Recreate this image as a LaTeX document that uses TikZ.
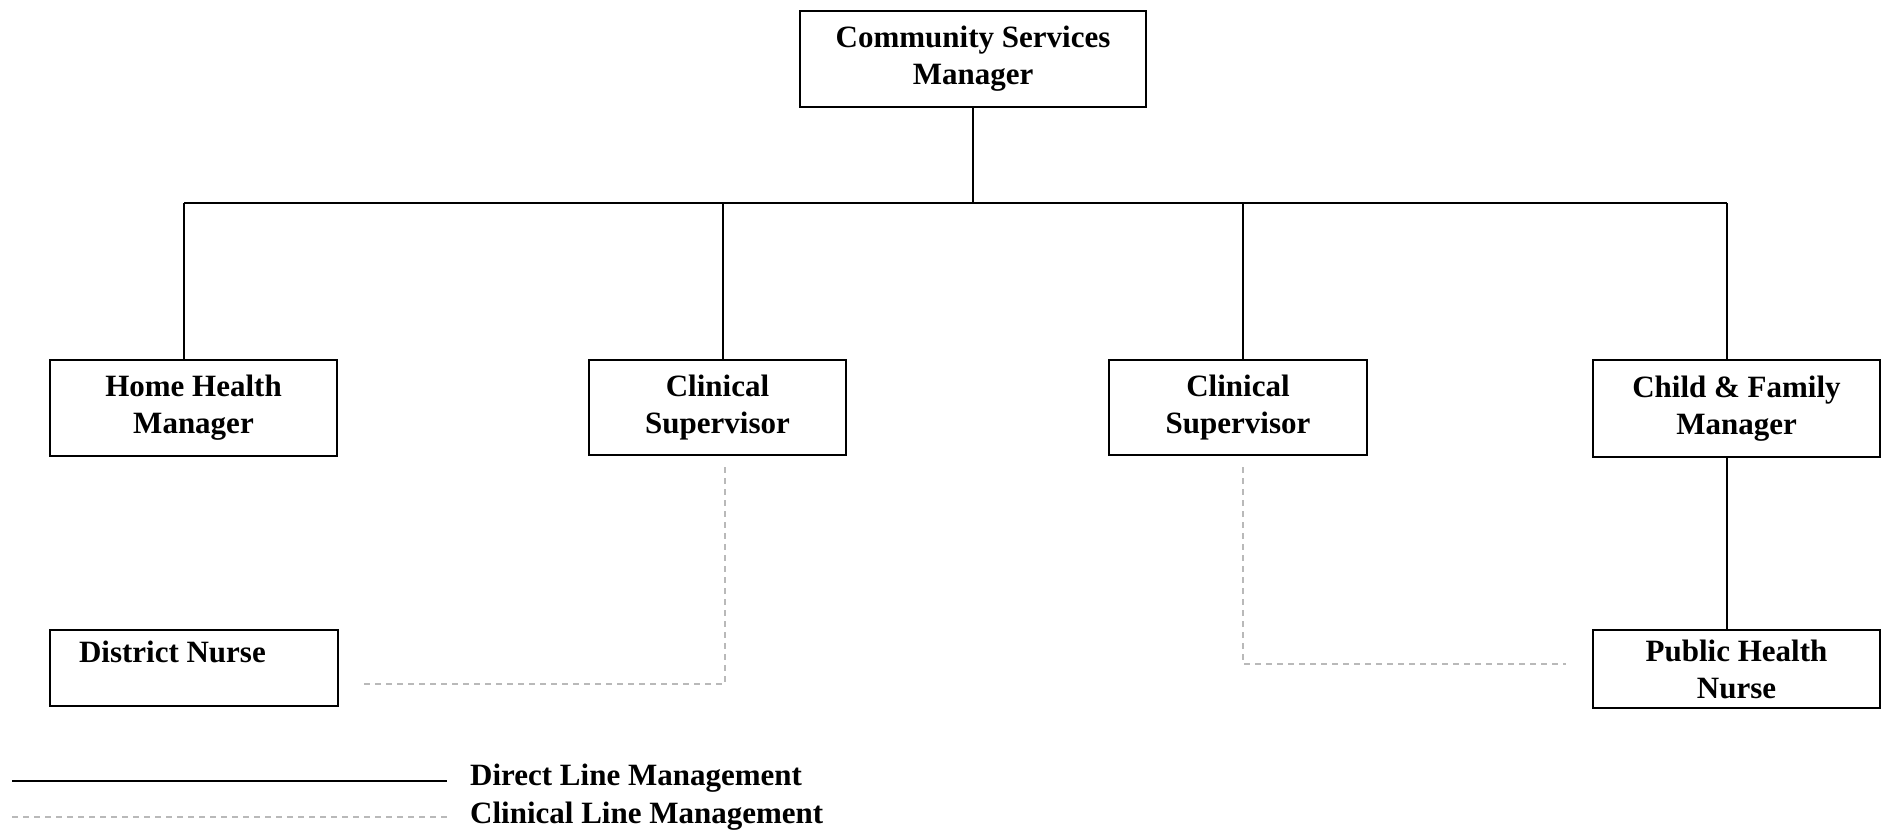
\documentclass[tikz,border=0pt]{standalone}
\usepackage{fontspec}
\setmainfont{Liberation Serif}
\usetikzlibrary{positioning,calc}

\begin{document}
\begin{tikzpicture}
                    [x=1pt,y=-1pt,
                     unit/.style={draw,line width=2.4pt,align=center,inner sep=0pt,
                                  font=\fontsize{31}{37}\selectfont\bfseries},
                     txt/.style={align=left,inner sep=0pt,font=\fontsize{31}{37}\selectfont\bfseries},
                     direct/.style={line width=1.8pt},
                     clinical/.style={gray!55,line width=1.2pt,dash pattern=on 6pt off 5pt}]

                \useasboundingbox (0,0) rectangle (1882,834);

                % top of the chart
                \node[unit,minimum width=346pt,minimum height=96pt] (csm) at (973,59) {Community Services\\Manager};

                % second row
                \node[unit,minimum width=287pt,minimum height=96pt] (hhm) at (193.5,408) {Home Health\\Manager};
                \node[unit,minimum width=257pt,minimum height=95pt] (cs1) at (717.5,407.5) {Clinical\\Supervisor};
                \node[unit,minimum width=258pt,minimum height=95pt] (cs2) at (1238,407.5) {Clinical\\Supervisor};
                \node[unit,minimum width=287pt,minimum height=97pt] (cfm) at (1736.5,408.5) {Child \& Family\\Manager};

                % third row
                \node[unit,minimum width=288pt,minimum height=76pt] (dn) at (194,668) {};
                \node[txt,anchor=west] (dnt) at ($(dn.north west)+(30,23)$) {District Nurse};
                \node[unit,minimum width=287pt,minimum height=78pt] (phn) at (1736.5,669) {Public Health\\Nurse};

                % direct line management
                \coordinate (bus) at (csm.south |- 0,203);
                \coordinate (b1) at (184,203);
                \coordinate (b2) at (723,203);
                \coordinate (b3) at (1243,203);
                \coordinate (b4) at (1727,203);
                \draw[direct] (csm.south) -- (bus);
                \draw[direct] (b1) -- (b4);
                \draw[direct] (b1) -- (b1 |- hhm.north);
                \draw[direct] (b2) -- (b2 |- cs1.north);
                \draw[direct] (b3) -- (b3 |- cs2.north);
                \draw[direct] (b4) -- (b4 |- cfm.north);
                \draw[direct] ($(hhm.south)+(2.5,0)$) -- ($(hhm.south)+(2.5,0)$ |- dn.north);
                \draw[direct] (b4 |- cfm.south) -- (b4 |- phn.north);

                % clinical line management
                \coordinate (c1) at ($(cs1.south)+(7.5,11)$);
                \coordinate (c1e) at (362,684);
                \draw[clinical] (c1) |- (c1e);
                \coordinate (c2) at ($(cs2.south)+(5,11)$);
                \coordinate (c2e) at (1566,664);
                \draw[clinical] (c2) |- (c2e);

                % legend
                \node[txt,anchor=west] (ldir) at (470,778) {Direct Line Management};
                \node[txt,anchor=west] (lcli) at (470,816) {Clinical Line Management};
                \coordinate (l1) at (12,781);
                \coordinate (l2) at (12,817);
                \draw[line width=2.6pt] (l1) -- (l1 -| 447,0);
                \draw[clinical] (l2) -- (l2 -| 447,0);

                \end{tikzpicture}
\end{document}
